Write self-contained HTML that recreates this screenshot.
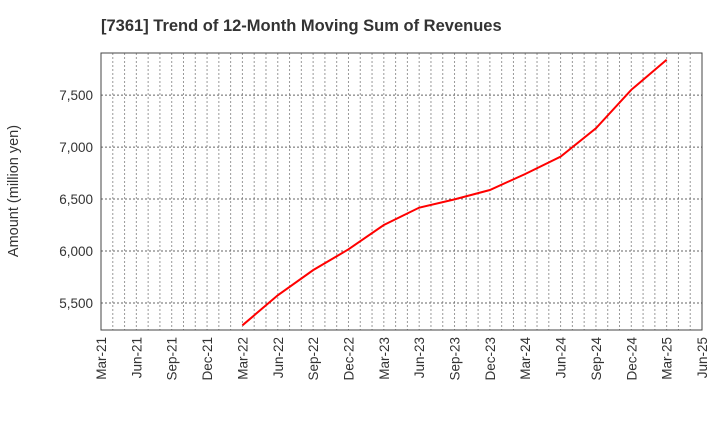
<!DOCTYPE html>
<html><head><meta charset="utf-8"><style>
body{margin:0;background:#fff;font-family:"Liberation Sans",sans-serif}
</style></head><body>
<svg id="chart" width="720" height="440" xmlns="http://www.w3.org/2000/svg" font-family="Liberation Sans, sans-serif">
<text x="101" y="31" font-size="16.5" font-weight="bold" fill="#333">[7361]  Trend of 12-Month Moving Sum of Revenues</text>
<text transform="translate(18,191) rotate(-90)" text-anchor="middle" font-size="14.5" fill="#333">Amount (million yen)</text>
<g id="grid"></g><g id="axes"></g><g id="series"></g>
</svg>
<script>
const xLabels=["Mar-21","Jun-21","Sep-21","Dec-21","Mar-22","Jun-22","Sep-22","Dec-22","Mar-23","Jun-23","Sep-23","Dec-23","Mar-24","Jun-24","Sep-24","Dec-24","Mar-25","Jun-25"];
const yTicks=[5500,6000,6500,7000,7500];
const yTickLabels=["5,500","6,000","6,500","7,000","7,500"];
const pointMonths=[12,15,18,21,24,27,30,33,36,39,42,45,48];
const values=[5285,5574,5816,6016,6250,6417,6497,6587,6741,6908,7181,7551,7840];
const L=101,R=702,T=53,B=330,nMonths=51,yMin=5240,yMax=7905;
const xs=m=>L+m*(R-L)/nMonths;
const ys=v=>B-(v-yMin)*(B-T)/(yMax-yMin);
const NS="http://www.w3.org/2000/svg";
function mk(tag,parent,attrs){const e=document.createElementNS(NS,tag);for(const k in attrs)e.setAttribute(k,attrs[k]);document.getElementById(parent).appendChild(e);return e;}
for(let m=1;m<nMonths;m++){
 const g=mk("line","grid",{x1:xs(m),x2:xs(m),y1:T,y2:B,stroke:"#999","stroke-dasharray":"2,2","stroke-width":1});
 
 
}
yTicks.forEach((v,i)=>{
 const g=mk("line","grid",{x1:L,x2:R,y1:ys(v),y2:ys(v),stroke:"#666","stroke-dasharray":"2,2","stroke-width":1});
 
 
 const t=mk("text","axes",{x:L-8,y:ys(v)+5,"text-anchor":"end","font-size":13.5,fill:"#333"});
 t.textContent=yTickLabels[i];
 
 
});
xLabels.forEach((s,i)=>{
 const x=xs(i*3);
 const t=mk("text","axes",{transform:`translate(${x+5},${B+7}) rotate(-90)`,"text-anchor":"end","font-size":13.5,fill:"#333"});
 t.textContent=s;
 
 
});
const frame=mk("rect","axes",{x:L,y:T,width:R-L,height:B-T,fill:"none",stroke:"#444","stroke-width":1});


const pts=values.map((v,i)=>xs(pointMonths[i])+","+ys(v)).join(" ");
const line=mk("polyline","series",{points:pts,fill:"none",stroke:"#f00","stroke-width":2});


</script>
</body></html>
